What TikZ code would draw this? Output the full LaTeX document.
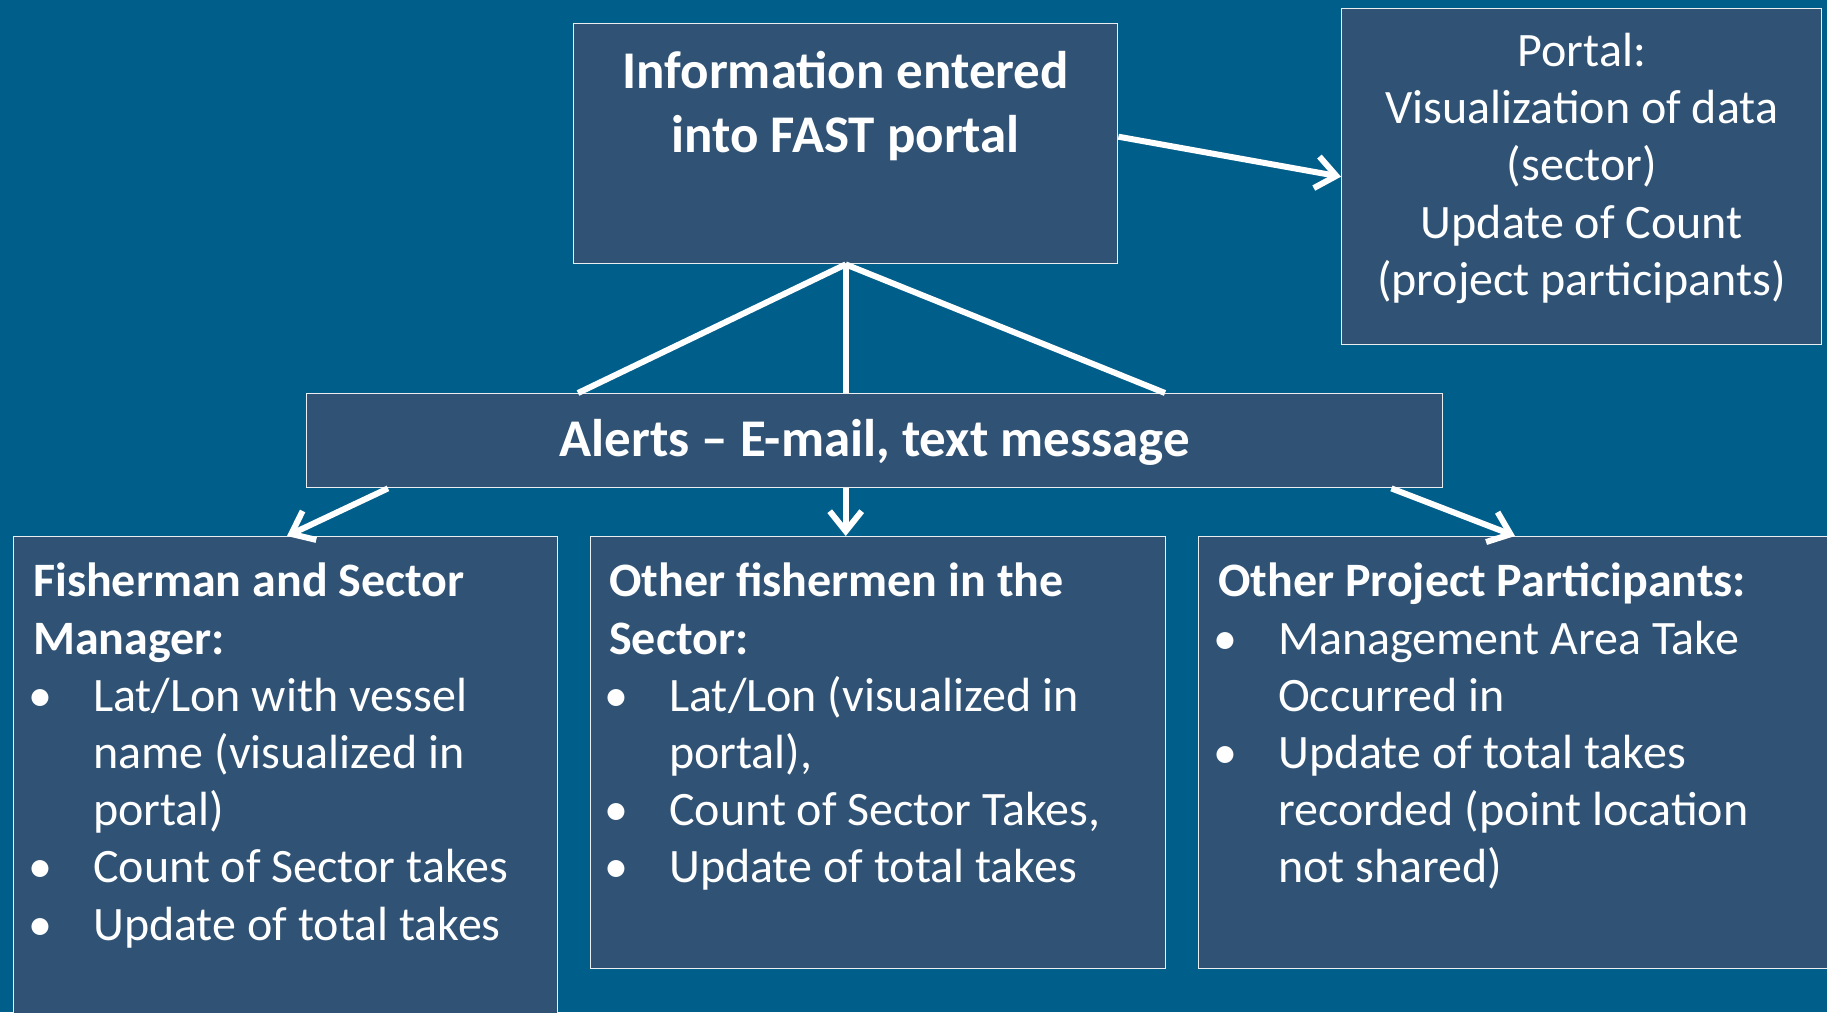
\documentclass[tikz,border=0pt]{standalone}
\usepackage{fontspec}
\setmainfont{Carlito}
\usetikzlibrary{positioning,arrows.meta,calc}
\definecolor{seablue}{RGB}{0,94,138}
\definecolor{boxblue}{RGB}{47,82,117}
\tikzset{box node/.style={rectangle,fill=boxblue,draw=white!90!boxblue,line width=1.4pt,inner sep=0pt,anchor=north west},
         text node/.style={text=white,inner sep=0pt,font=\fontsize{48}{57.2}\selectfont},
         link/.style={draw=white,line width=6pt},
         arrow link/.style={link,-{Straight Barb[length=20pt,width=32pt]}},
            }
\newcommand\itm[1]{\par\noindent\hangindent=60pt \hangafter=1 \makebox[60pt][l]{\hspace*{-5pt}\textbullet}#1}
\newcommand\boxtext[2]{\parbox[t]{#1}{\raggedright #2}}

\begin{document}
\begin{tikzpicture}[x=1pt,y=-1pt]
    \useasboundingbox (0,0) rectangle (1827,1012);
    \clip (0,0) rectangle (1827,1012);
    \fill[seablue] (0,0) rectangle (1827,1012);

    % boxes
    \node[box node,minimum width=544pt,minimum height=240pt] (info) at (573,23) {};
    \node[box node,minimum width=480pt,minimum height=336pt] (portal) at (1341,8) {};
    \node[box node,minimum width=1136pt,minimum height=94pt] (alerts) at (306,393) {};
    \node[box node,minimum width=544pt,minimum height=520pt] (fish) at (13,536) {};
    \node[box node,minimum width=575pt,minimum height=432pt] (others) at (590,536) {};
    \node[box node,minimum width=700pt,minimum height=432pt] (part) at (1198,536) {};

    % texts
    \node[text node,align=center,font=\fontsize{53}{64}\selectfont\bfseries] (infotext) [below=28pt of info.north]
        {Information entered\\into FAST portal};
    \node[text node,align=center] (portaltext) [below=25pt of portal.north]
        {Portal:\\Visualization of data\\(sector)\\Update of Count\\(project participants)};
    \node[text node,font=\fontsize{53}{64}\selectfont\bfseries] (alertstext) at ($(alerts.center)+(0,2)$)
        {Alerts -- E-mail, text message};
    \node[text node] (fishtext) [below right=27pt and 20pt of fish.north west]
        {\boxtext{530pt}{\textbf{Fisherman and Sector\\Manager:}
         \itm{Lat/Lon with vessel\newline name (visualized in\newline portal)}
         \itm{Count of Sector takes}
         \itm{Update of total takes}}};
    \node[text node] (otherstext) [below right=27pt and 19pt of others.north west]
        {\boxtext{550pt}{\textbf{Other fishermen in the\\Sector:}
         \itm{Lat/Lon (visualized in\newline portal),}
         \itm{Count of Sector Takes,}
         \itm{Update of total takes}}};
    \node[text node] (parttext) [below right=27pt and 20pt of part.north west]
        {\boxtext{600pt}{\textbf{Other Project Participants:}
         \itm{Management Area Take\newline Occurred in}
         \itm{Update of total takes\newline recorded (point location\newline not shared)}}};

    % connectors
    \coordinate (lt) at ($(alerts.north west)+(272,0)$);
    \coordinate (mt) at (info.south |- alerts.north);
    \coordinate (rt) at ($(alerts.north west)+(859,0)$);
    \path[link]
    (info.south) edge (lt)
    (info.south) edge (mt)
    (info.south) edge (rt);

    \draw[arrow link] ($(info.east)+(0,-7)$) -- (portal.west);
    \draw[arrow link] ($(alerts.south west)+(82,0)$) -- ($(fish.north west)+(274,0)$);
    \draw[arrow link] (info.south |- alerts.south) -- (info.south |- others.north);
    \draw[arrow link] ($(alerts.south east)+(-52,0)$) -- ($(part.north west)+(317,0)$);
\end{tikzpicture}
\end{document}
